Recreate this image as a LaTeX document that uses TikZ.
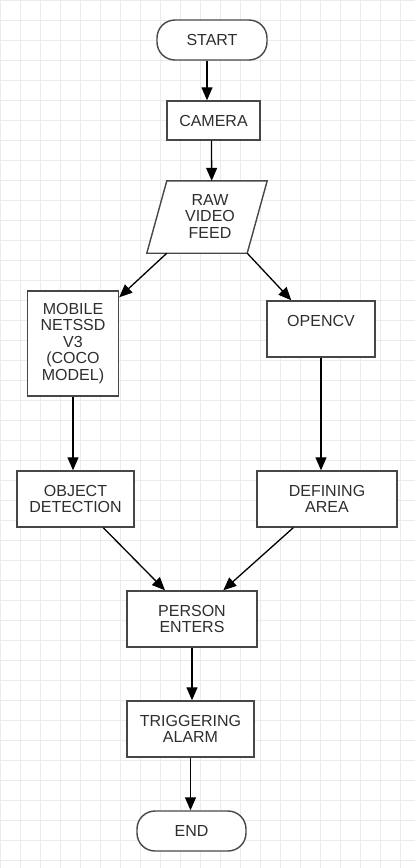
\documentclass[tikz,border=0pt]{standalone}
\usepackage{fontspec}
\setmainfont{Liberation Sans}
\usetikzlibrary{arrows.meta}

\begin{document}
\begin{tikzpicture}[x=1pt,y=-1pt,
	every node/.style={font=\fontsize{16}{16.5}\selectfont,align=center,text=black!82,inner sep=0pt},
	box/.style={draw=black!72,line width=1.4pt,fill=white},
	term/.style={box,rounded corners=18pt,minimum height=40pt},
	arr/.style={line width=1.3pt,-{Triangle[length=13pt,width=11pt]}}]
	\useasboundingbox (0,0) rectangle (415,868);
	% grid in the back
	\foreach \gx in {0,20,...,400} \draw [black!8,line width=1pt] (\gx,0)--(\gx,868);
	\foreach \gy in {0,20,...,860} \draw [black!8,line width=1pt] (0,\gy)--(415,\gy);
	\node [term,minimum width=110pt] (start) at (212,40) {START};
	\node [box,minimum width=93pt,minimum height=39pt] (camera) at (213.5,120.5) {CAMERA};
	% slanted input box: drawn round an empty frame
	\node [minimum width=100pt,minimum height=72pt] (raw) at (207,217) {};
	\draw [box] ([xshift=-10pt]raw.south west)--([xshift=-10pt]raw.south east)--([xshift=10pt]raw.north east)--([xshift=10pt]raw.north west)--cycle;
	\node (rawtxt) at ([xshift=3pt,yshift=1pt]raw.center) {RAW\\VIDEO\\FEED};
	\node [box,minimum width=91pt,minimum height=105pt] (mobile) at (73,343.5) {MOBILE\\NETSSD\\V3\\(COCO\\MODEL)};
	\node [box,minimum width=108pt,minimum height=56pt] (opencv) at (321,329) {OPENCV\\\phantom{X}};
	\node [box,minimum width=117pt,minimum height=56pt] (objdet) at (75.5,499) {OBJECT\\DETECTION};
	\node [box,minimum width=140pt,minimum height=56pt] (defarea) at (327,499) {DEFINING\\AREA};
	\node [box,minimum width=130pt,minimum height=56pt] (person) at (192,619) {PERSON\\ENTERS};
	\node [box,minimum width=127pt,minimum height=56pt] (alarm) at (190.5,729) {TRIGGERING\\ALARM};
	\node [term,minimum width=109pt] (end) at (191.5,831) {END};
	\draw [arr] ([xshift=-5pt]start.south) -- ([xshift=-6.5pt]camera.north);
	\draw [arr] ([xshift=-2pt]camera.south) -- ([xshift=4.7pt]raw.north);
	\draw [arr] ([xshift=10pt]raw.south west) -- ([yshift=-7pt]mobile.north east);
	\draw [arr] ([xshift=-10pt]raw.south east) -- ([xshift=25pt]opencv.north west);
	\draw [arr] (mobile.south) -- (mobile.south |- objdet.north);
	\draw [arr] (opencv.south) -- (opencv.south |- defarea.north);
	\draw [arr] ([xshift=27.8pt]objdet.south) -- ([xshift=-27pt]person.north);
	\draw [arr] ([xshift=-33.7pt]defarea.south) -- ([xshift=31.3pt]person.north);
	\draw [arr] (person.south) -- (person.south |- alarm.north);
	\draw [arr] (alarm.south) -- (alarm.south |- end.north);
\end{tikzpicture}
\end{document}
